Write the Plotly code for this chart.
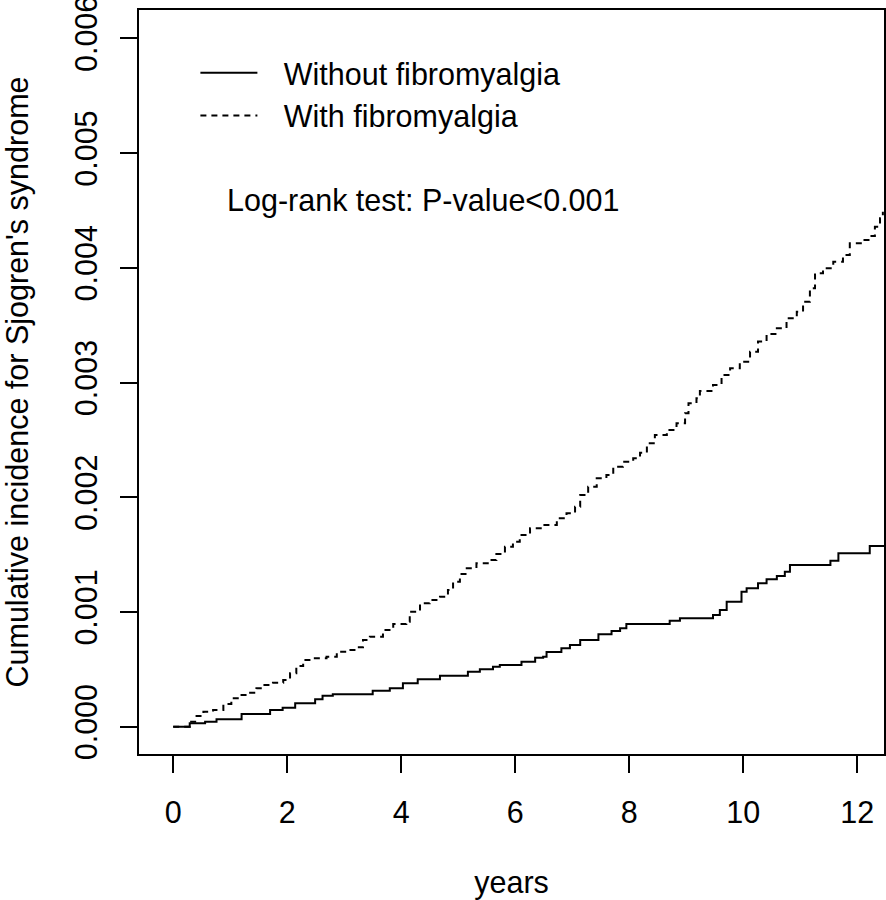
import plotly.graph_objects as go

# Without fibromyalgia (solid) - step function points (years, cumulative incidence)
years_without = [0.00, 0.29, 0.56, 0.76, 1.20, 1.70, 1.92, 2.14, 2.49, 2.62, 2.80, 3.50, 3.80,
                 4.03, 4.29, 4.68, 5.17, 5.38, 5.61, 5.73, 6.11, 6.35, 6.49, 6.55, 6.81, 6.96,
                 7.14, 7.46, 7.69, 7.84, 7.95, 8.71, 8.89, 9.47, 9.59, 9.71, 9.97, 10.06, 10.26,
                 10.41, 10.59, 10.73, 10.82, 11.53, 11.67, 12.22, 12.47]
inc_without = [0.000000, 0.000030, 0.000044, 0.000065, 0.000111, 0.000146, 0.000166, 0.000204,
               0.000239, 0.000270, 0.000282, 0.000314, 0.000335, 0.000378, 0.000413, 0.000445,
               0.000480, 0.000500, 0.000523, 0.000538, 0.000567, 0.000602, 0.000610, 0.000651,
               0.000684, 0.000712, 0.000756, 0.000806, 0.000834, 0.000858, 0.000895, 0.000924,
               0.000945, 0.000974, 0.001017, 0.001090, 0.001177, 0.001206, 0.001250, 0.001285,
               0.001314, 0.001351, 0.001410, 0.001447, 0.001512, 0.001575, 0.001575]

# With fibromyalgia (dashed)
years_with = [0.00, 0.29, 0.41, 0.53, 0.70, 0.88, 1.02, 1.17, 1.35, 1.46, 1.58, 1.75, 1.93,
              2.05, 2.16, 2.28, 2.46, 2.69, 2.87, 3.04, 3.22, 3.33, 3.45, 3.68, 3.86, 4.09,
              4.15, 4.33, 4.50, 4.68, 4.82, 4.91, 5.03, 5.15, 5.32, 5.56, 5.67, 5.82, 5.96,
              6.08, 6.26, 6.49, 6.73, 6.90, 7.05, 7.14, 7.28, 7.43, 7.60, 7.72, 7.89, 8.07,
              8.19, 8.31, 8.45, 8.66, 8.83, 8.98, 9.04, 9.18, 9.24, 9.47, 9.62, 9.77, 9.94,
              10.12, 10.26, 10.41, 10.59, 10.76, 10.94, 11.05, 11.17, 11.26, 11.40, 11.58,
              11.75, 11.87, 12.11, 12.22, 12.31, 12.40, 12.45]
inc_with = [0.000000, 0.000044, 0.000093, 0.000131, 0.000146, 0.000198, 0.000248, 0.000276,
            0.000296, 0.000335, 0.000364, 0.000384, 0.000407, 0.000466, 0.000529, 0.000582,
            0.000596, 0.000610, 0.000654, 0.000669, 0.000692, 0.000756, 0.000785, 0.000843,
            0.000895, 0.000915, 0.001003, 0.001076, 0.001105, 0.001133, 0.001192, 0.001264,
            0.001331, 0.001381, 0.001425, 0.001453, 0.001506, 0.001569, 0.001613, 0.001671,
            0.001730, 0.001759, 0.001817, 0.001860, 0.001918, 0.002020, 0.002092, 0.002166,
            0.002194, 0.002267, 0.002310, 0.002340, 0.002389, 0.002471, 0.002543, 0.002587,
            0.002645, 0.002732, 0.002820, 0.002863, 0.002927, 0.002979, 0.003066, 0.003125,
            0.003182, 0.003269, 0.003357, 0.003424, 0.003473, 0.003561, 0.003618, 0.003705,
            0.003822, 0.003953, 0.003997, 0.004054, 0.004112, 0.004214, 0.004243, 0.004278,
            0.004359, 0.004432, 0.004490]

x_ticks = [0, 2, 4, 6, 8, 10, 12]
y_ticks = [0.000, 0.001, 0.002, 0.003, 0.004, 0.005, 0.006]
y_tick_labels = ["0.000", "0.001", "0.002", "0.003", "0.004", "0.005", "0.006"]

FONT = "Liberation Sans, Arial, sans-serif"
FS = 30.5

fig = go.Figure()
fig.add_trace(go.Scatter(x=years_without, y=inc_without, mode="lines", line_shape="hv",
                         name="\u2002\u2009Without fibromyalgia",
                         line=dict(color="black", width=2)))
fig.add_trace(go.Scatter(x=years_with, y=inc_with, mode="lines", line_shape="hv",
                         name="\u2002\u2009With fibromyalgia",
                         line=dict(color="black", width=2, dash="6px,5px")))

fig.add_annotation(text="Log-rank test: P-value<0.001", x=0.91, y=0.00459,
                   xref="x", yref="y", xanchor="left", yanchor="middle",
                   showarrow=False, font=dict(family=FONT, size=FS, color="black"))

fig.update_layout(
    width=886, height=900,
    margin=dict(l=139, r=2, t=10, b=146, autoexpand=False),
    paper_bgcolor="white", plot_bgcolor="white",
    font=dict(family=FONT, size=FS, color="black"),
    showlegend=True,
    legend=dict(x=0.0757, y=0.951, xanchor="left", yanchor="top",
                bgcolor="rgba(0,0,0,0)", itemwidth=57,
                font=dict(family=FONT, size=FS, color="black"),
                tracegroupgap=0),
    xaxis=dict(range=[-0.6, 12.47], tickvals=x_ticks, ticktext=[str(v) for v in x_ticks],
               showgrid=False, zeroline=False, showline=True, mirror=True,
               linecolor="black", linewidth=1.5, automargin=False,
               ticks="outside", ticklen=17, tickwidth=1.5, tickcolor="black",
               ticklabelstandoff=14, ticklabeloverflow="allow",
               title=dict(text="years", standoff=51, font=dict(family=FONT, size=FS))),
    yaxis=dict(range=[-0.000238, 0.006248], tickvals=y_ticks, ticktext=y_tick_labels,
               showgrid=False, zeroline=False, showline=True, mirror=True,
               linecolor="black", linewidth=1.5, automargin=False,
               ticks="outside", ticklen=17, tickwidth=1.5, tickcolor="black",
               tickangle=-90, ticklabelstandoff=11, ticklabeloverflow="allow",
               title=dict(text="Cumulative incidence for Sjogren's syndrome", standoff=31,
                          font=dict(family=FONT, size=FS))),
)

fig.write_html("out.html", config={"displayModeBar": False},
               post_script="document.body.style.margin='0';document.body.style.overflow='hidden';")
